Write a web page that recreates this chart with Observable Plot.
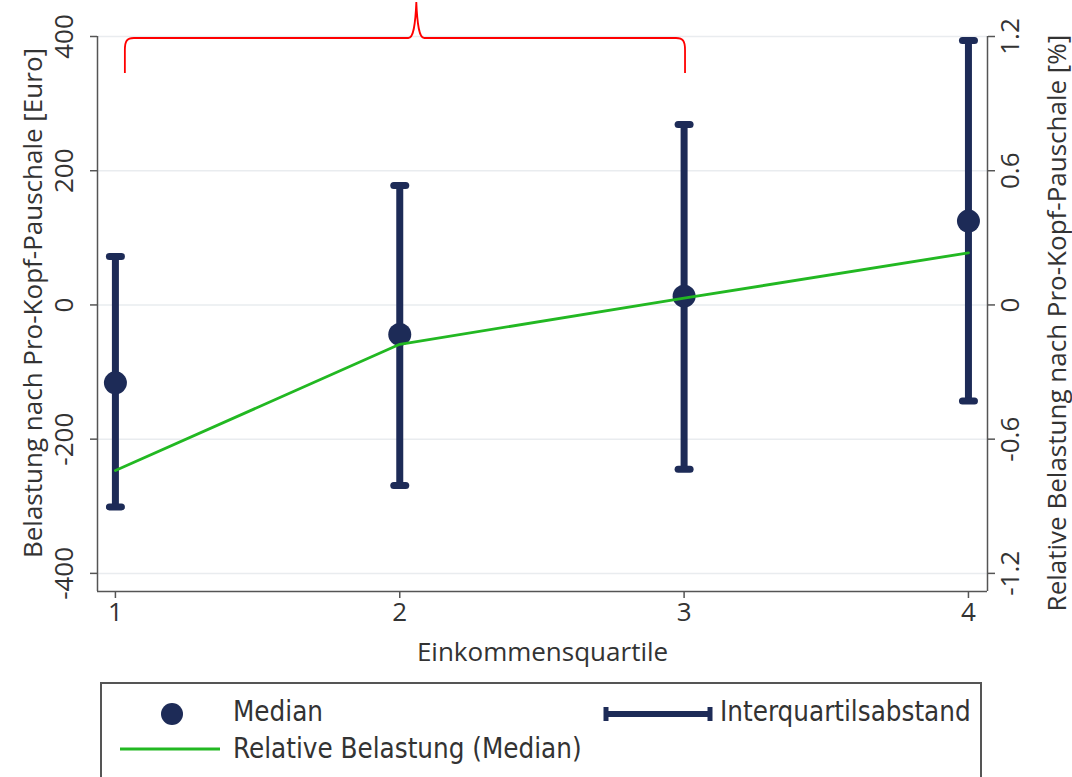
<!DOCTYPE html>
<html>
<head>
<meta charset="utf-8">
<script src="https://cdn.jsdelivr.net/npm/d3@7"></script>
<script src="https://cdn.jsdelivr.net/npm/@observablehq/plot@0.6"></script>
<style>
  html, body { margin: 0; padding: 0; background: #fff; overflow: hidden; }
  #chart svg { display: block; }
  #legend {
    position: relative;
    margin-left: 100px;
    margin-top: 10px;
    width: 878px;
    height: 130px;
    border: 2px solid #555;
    font-family: "DejaVu Sans Condensed", "Liberation Sans Narrow", sans-serif;
    font-size: 27.5px;
    color: #333;
  }
  #legend .item { position: absolute; line-height: 1; white-space: nowrap; }
  #legend svg { position: absolute; overflow: visible; }
</style>
</head>
<body>
<div id="chart"></div>
<div id="legend"></div>
<script>
// ---- data ----
const quartiles = [1, 2, 3, 4];
const medianEuro = [-116, -44, 13, 125];
const iqrLowEuro = [-301, -269, -245, -143];
const iqrHighEuro = [72, 178, 269, 394];
const relMedianPct = [-0.74, -0.176, 0.03, 0.233];
const leftTicks = [-400, -200, 0, 200, 400];
const rightTicks = [-1.2, -0.6, 0, 0.6, 1.2];
const xTicks = [1, 2, 3, 4];
const braceSpan = [1.035, 3.005];
const braceTip = 2.06;

const leftLabel = "Belastung nach Pro-Kopf-Pauschale [Euro]";
const rightLabel = "Relative Belastung nach Pro-Kopf-Pauschale [%]";
const xLabel = "Einkommensquartile";
const legendLabels = ["Median", "Interquartilsabstand", "Relative Belastung (Median)"];

const navy = "#1d2b57";
const green = "#22b822";
const axisColor = "#555";
const gridColor = "#e9ecef";

const xDomain = [0.937, 4.067];
const yDomain = [-427, 400];
const ratio = 400 / 1.2; // euro units per percent unit on the right axis

const rows = quartiles.map((q, i) => ({
  q, median: medianEuro[i], lo: iqrLowEuro[i], hi: iqrHighEuro[i], rel: relMedianPct[i]
}));

const capSymbol = {
  draw(ctx, size) {
    const r = Math.sqrt(size / Math.PI);
    ctx.moveTo(-r, 0);
    ctx.lineTo(r, 0);
  }
};

const braceMark = (index, scales, values, dims) => {
  const sx = scales.x;
  const xL = sx(braceSpan[0]), xR = sx(braceSpan[1]), xT = sx(braceTip);
  const yH = dims.marginTop + 2, yEnd = dims.marginTop + 37, yTip = 2;
  const p = d3.path();
  p.moveTo(xL, yEnd);
  p.lineTo(xL, yH + 12);
  p.bezierCurveTo(xL, yH + 3, xL + 2, yH, xL + 9, yH);
  p.lineTo(xT - 8, yH);
  p.bezierCurveTo(xT - 3, yH, xT - 1, yH - 12, xT, yTip);
  p.bezierCurveTo(xT + 1, yH - 12, xT + 3, yH, xT + 8, yH);
  p.lineTo(xR - 9, yH);
  p.bezierCurveTo(xR - 2, yH, xR, yH + 3, xR, yH + 12);
  p.lineTo(xR, yEnd);
  const el = document.createElementNS("http://www.w3.org/2000/svg", "path");
  el.setAttribute("d", p.toString());
  el.setAttribute("fill", "none");
  el.setAttribute("stroke", "#ff0000");
  el.setAttribute("stroke-width", "1.8");
  return el;
};

const chart = Plot.plot({
  width: 1072,
  height: 672,
  marginLeft: 97,
  marginRight: 85,
  marginTop: 36,
  marginBottom: 81,
  style: { fontFamily: "'Open Sans', sans-serif", fontSize: "26px", color: "#333", background: "#fff", overflow: "visible" },
  x: { domain: xDomain },
  y: { domain: yDomain },
  marks: [
    Plot.ruleY(leftTicks, { stroke: gridColor, strokeWidth: 1.5 }),
    Plot.axisX({ ticks: xTicks, tickSize: 7, tickPadding: 4, stroke: axisColor, strokeWidth: 1.5, fontSize: 26, label: null, tickFormat: d => String(d) }),
    Plot.axisY({ anchor: "left", ticks: leftTicks, tickSize: 7, stroke: axisColor, strokeWidth: 1.5, tickFormat: () => "", label: null }),
    Plot.axisY({ anchor: "right", ticks: rightTicks.map(v => v * ratio), tickSize: 7, stroke: axisColor, strokeWidth: 1.5, tickFormat: () => "", label: null }),
    Plot.ruleX(xDomain, { stroke: axisColor, strokeWidth: 1.5 }),
    Plot.ruleY([yDomain[0]], { stroke: axisColor, strokeWidth: 1.5 }),
    Plot.text(leftTicks, { y: d => d, text: d => String(d), frameAnchor: "left", dx: -33, rotate: -90, textAnchor: "middle", lineAnchor: "middle", fontSize: 26, fill: "#333" }),
    Plot.text(rightTicks, { y: d => d * ratio, text: d => String(d), frameAnchor: "right", dx: 23, rotate: -90, textAnchor: "middle", lineAnchor: "middle", fontSize: 26, fill: "#333" }),
    Plot.text([leftLabel], { text: d => d, frameAnchor: "left", dx: -64, dy: -11, rotate: -90, textAnchor: "middle", lineAnchor: "middle", fontSize: 26, fill: "#333" }),
    Plot.text([rightLabel], { text: d => d, frameAnchor: "right", dx: 70, dy: 9, rotate: -90, textAnchor: "middle", lineAnchor: "middle", fontSize: 26, fill: "#333" }),
    Plot.text([xLabel], { text: d => d, frameAnchor: "bottom", dy: 61, textAnchor: "middle", lineAnchor: "middle", fontSize: 26, fill: "#333" }),
    Plot.ruleX(rows, { x: "q", y1: "lo", y2: "hi", stroke: navy, strokeWidth: 7 }),
    Plot.dot(rows, { x: "q", y: "lo", symbol: capSymbol, r: 6, stroke: navy, strokeWidth: 7, strokeLinecap: "round" }),
    Plot.dot(rows, { x: "q", y: "hi", symbol: capSymbol, r: 6, stroke: navy, strokeWidth: 7, strokeLinecap: "round" }),
    Plot.dot(rows, { x: "q", y: "median", r: 11.5, fill: navy, stroke: null }),
    Plot.line(rows, { x: "q", y: d => d.rel * ratio, stroke: green, strokeWidth: 2.8 }),
    braceMark
  ]
});
document.getElementById("chart").appendChild(chart);

// ---- legend ----
const legend = d3.select("#legend");
const addSvg = (x, y, w, h) => legend.append("svg").style("left", x + "px").style("top", y + "px").attr("width", w).attr("height", h);
const s1 = addSvg(55, 16, 30, 30);
s1.append("circle").attr("cx", 15).attr("cy", 14).attr("r", 11).attr("fill", navy);
legend.append("div").attr("class", "item").style("left", "131px").style("top", "14px").text(legendLabels[0]);
const s2 = addSvg(500, 14, 112, 32);
s2.append("line").attr("x1", 4).attr("x2", 108).attr("y1", 16).attr("y2", 16).attr("stroke", navy).attr("stroke-width", 6);
s2.append("line").attr("x1", 4).attr("x2", 4).attr("y1", 9).attr("y2", 23).attr("stroke", navy).attr("stroke-width", 5);
s2.append("line").attr("x1", 108).attr("x2", 108).attr("y1", 9).attr("y2", 23).attr("stroke", navy).attr("stroke-width", 5);
legend.append("div").attr("class", "item").style("left", "618px").style("top", "14px").text(legendLabels[1]);
const s3 = addSvg(18, 50, 102, 30);
s3.append("line").attr("x1", 0).attr("x2", 100).attr("y1", 15).attr("y2", 15).attr("stroke", green).attr("stroke-width", 3);
legend.append("div").attr("class", "item").style("left", "131px").style("top", "51px").text(legendLabels[2]);
</script>
</body>
</html>
